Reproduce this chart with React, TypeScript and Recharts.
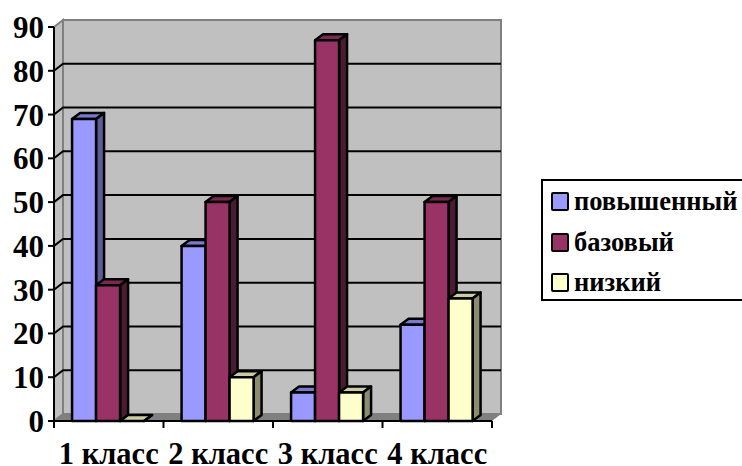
import { BarChart, Bar, XAxis, YAxis, Legend, ReferenceArea, ReferenceLine } from "recharts";

const categories = ["1 класс", "2 класс", "3 класс", "4 класс"];
const raised = [69, 40, 6.5, 22];
const basic = [31, 50, 87, 50];
const low = [0, 10, 6.5, 28];
const yTicks = [0, 10, 20, 30, 40, 50, 60, 70, 80, 90];
const gridTicks = [10, 20, 30, 40, 50, 60, 70, 80];
const frameTicks = [0, 1, 2, 3, 4];

const data = categories.map((name, i) => ({
  name,
  slot: i,
  raised: raised[i],
  basic: basic[i],
  low: low[i],
}));

// how far the back wall sits behind the front axes, and the depth of a bar
const WALL_DX = 9;
const WALL_DY = 7;
const BAR_DX = 8;
const BAR_DY = 6;

const FONT = "'Liberation Serif', serif";

function walls({ x, y, width, height }: any) {
  const r = x + width;
  const b = y + height;
  return (
    <g>
      <polygon
        points={`${x},${y} ${x + WALL_DX},${y - WALL_DY} ${x + WALL_DX},${b - WALL_DY} ${x},${b}`}
        fill="#c0c0c0"
        stroke="#808080"
        strokeWidth={2}
      />
      <rect
        x={x + WALL_DX}
        y={y - WALL_DY}
        width={width}
        height={height}
        fill="#c0c0c0"
        stroke="#808080"
        strokeWidth={2}
      />
      <polygon
        points={`${x},${b} ${r},${b} ${r + WALL_DX},${b - WALL_DY} ${x + WALL_DX},${b - WALL_DY}`}
        fill="#808080"
      />
    </g>
  );
}

function gridLine({ x1, y1, x2 }: any) {
  return (
    <polyline
      points={`${x1},${y1} ${x1 + WALL_DX},${y1 - WALL_DY} ${x2 + WALL_DX},${y1 - WALL_DY}`}
      fill="none"
      stroke="#000"
      strokeWidth={2}
    />
  );
}

function box3d(front: string, top: string, side: string) {
  return ({ x, y, width, height }: any) => {
    const r = x + width;
    const b = y + height;
    return (
      <g stroke="#000" strokeWidth={2.5} strokeLinejoin="round">
        <polygon
          points={`${x},${y} ${x + BAR_DX},${y - BAR_DY} ${r + BAR_DX},${y - BAR_DY} ${r},${y}`}
          fill={top}
        />
        <polygon
          points={`${r},${y} ${r + BAR_DX},${y - BAR_DY} ${r + BAR_DX},${b - BAR_DY} ${r},${b}`}
          fill={side}
        />
        <rect x={x} y={y} width={width} height={height} fill={front} />
      </g>
    );
  };
}

function legendBox({ payload }: any) {
  return (
    <div
      style={{
        position: "absolute",
        left: 541,
        top: 179,
        width: 220,
        height: 122,
        boxSizing: "border-box",
        border: "2px solid #000",
        fontFamily: FONT,
        fontWeight: "bold",
        fontSize: 26.5,
        color: "#000",
      }}
    >
      {(payload || []).map((item: any, i: number) => (
        <div
          key={item.value}
          style={{
            position: "absolute",
            left: 8,
            top: 5 + i * 40.5,
            height: 30,
            lineHeight: "30px",
            whiteSpace: "nowrap",
          }}
        >
          <span
            style={{
              display: "inline-block",
              boxSizing: "border-box",
              width: 18,
              height: 19,
              marginRight: 5,
              verticalAlign: "-1px",
              background: item.color,
              border: "2.5px solid #000",
              borderRadius: 2,
            }}
          />
          {item.value}
        </div>
      ))}
    </div>
  );
}

const noTick = () => <g />;

export default function App() {
  return (
    <div style={{ position: "absolute", left: 0, top: 0, width: 742, height: 466, overflow: "hidden" }}>
      <BarChart
        width={742}
        height={466}
        data={data}
        margin={{ top: 27, right: 250, bottom: 0, left: 0 }}
        barCategoryGap="16.5%"
        barGap={0}
      >
        <XAxis
          xAxisId={0}
          dataKey="slot"
          type="number"
          domain={[0, 4]}
          allowDataOverflow
          ticks={frameTicks}
          tick={noTick}
          tickSize={7}
          height={8}
          stroke="#000"
          axisLine={{ stroke: "#000", strokeWidth: 2 }}
          tickLine={{ stroke: "#000", strokeWidth: 2 }}
        />
        <XAxis
          xAxisId={1}
          dataKey="name"
          axisLine={false}
          tickLine={false}
          height={37}
          tickSize={0}
          tickMargin={13}
          interval={0}
          tick={{ fill: "#000", fontSize: 30.5, fontWeight: "bold", fontFamily: FONT }}
        />
        <YAxis
          width={54}
          domain={[0, 90]}
          ticks={yTicks}
          interval={0}
          tickSize={6}
          tickMargin={4}
          axisLine={{ stroke: "#000", strokeWidth: 2 }}
          tickLine={{ stroke: "#000", strokeWidth: 2 }}
          tick={{ fill: "#000", fontSize: 31, fontWeight: "bold", fontFamily: FONT }}
        />
        <ReferenceArea xAxisId={0} x1={0} x2={4} y1={0} y2={90} shape={walls} ifOverflow="visible" zIndex={-20} />
        {gridTicks.map((t) => (
          <ReferenceLine key={t} xAxisId={0} y={t} shape={gridLine} zIndex={-10} />
        ))}
        <Legend
          content={legendBox}
          itemSorter={null}
          wrapperStyle={{ position: "absolute", left: 0, top: 0, width: 0, height: 0 }}
        />
        <Bar
          xAxisId={1}
          dataKey="raised"
          name="повышенный"
          fill="#9999ff"
          shape={box3d("#9999ff", "#7a7acc", "#5c5c99")}
          isAnimationActive={false}
        />
        <Bar
          xAxisId={1}
          dataKey="basic"
          name="базовый"
          fill="#993366"
          shape={box3d("#993366", "#7a2952", "#4d1a33")}
          isAnimationActive={false}
        />
        <Bar
          xAxisId={1}
          dataKey="low"
          name="низкий"
          fill="#ffffcc"
          shape={box3d("#ffffcc", "#cccca3", "#8c8c70")}
          isAnimationActive={false}
        />
      </BarChart>
    </div>
  );
}
